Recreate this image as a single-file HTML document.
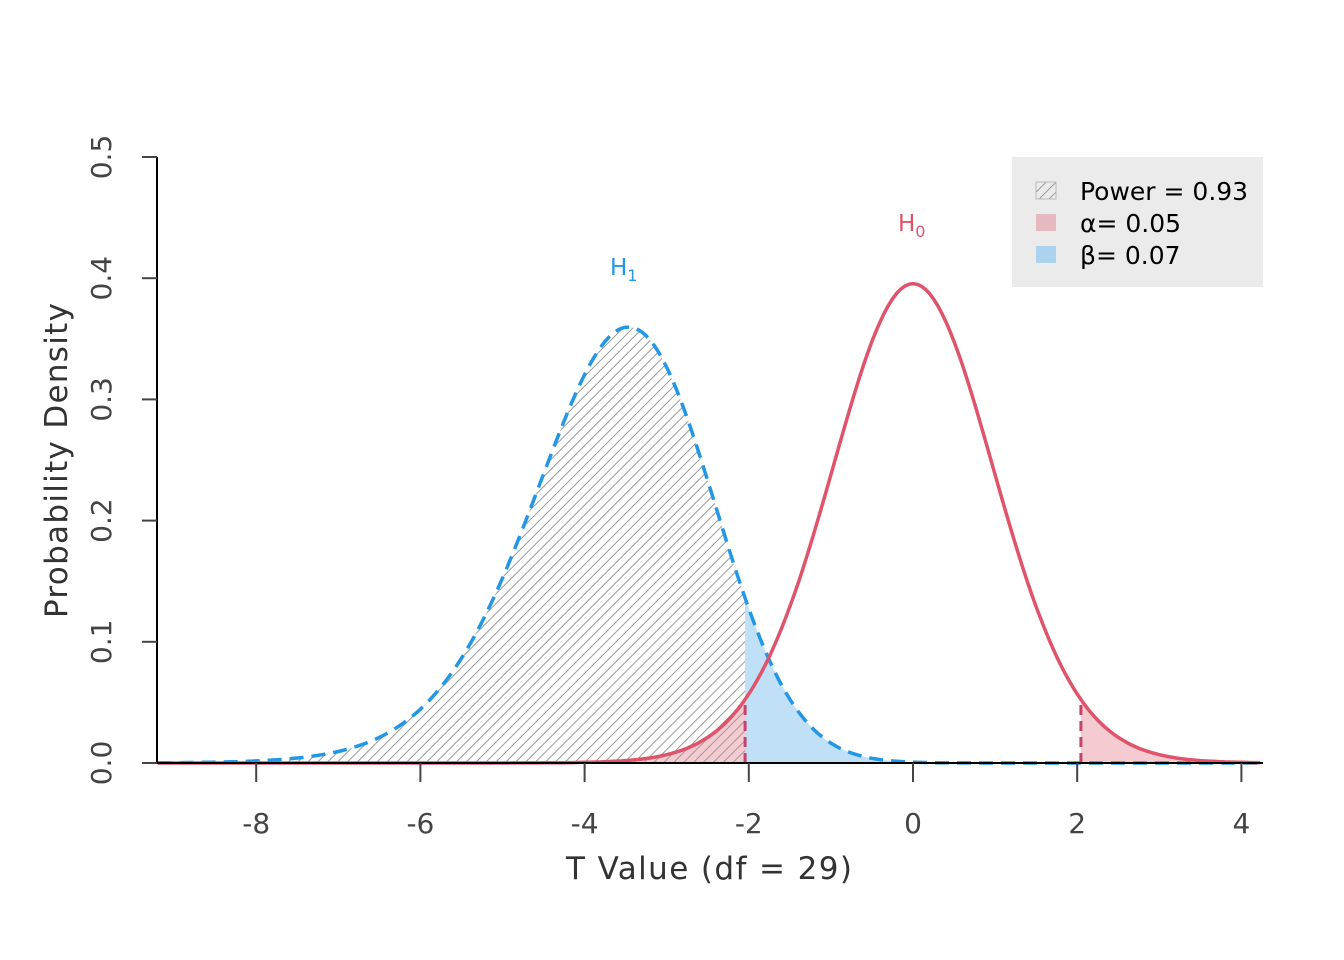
<!DOCTYPE html>
<html><head><meta charset="utf-8"><style>
body{margin:0;background:#fff}
svg{display:block;font-family:"DejaVu Sans","Liberation Sans",sans-serif}
</style></head><body>
<svg id="s" width="1344" height="960" xmlns="http://www.w3.org/2000/svg">
<defs>
<pattern id="hatch" patternUnits="userSpaceOnUse" width="7" height="7" patternTransform="rotate(45)">
<line x1="0" y1="0" x2="0" y2="7" stroke="#9a9a9a" stroke-width="2"/>
</pattern>
</defs>
<g id="fills"></g>
<g id="lines"></g>
<line x1="157" y1="763" x2="1263" y2="763" stroke="#000" stroke-width="2"/>
<line x1="157" y1="157" x2="157" y2="763" stroke="#000" stroke-width="2"/>
<g id="axes" fill="#444" font-size="28"></g>
<text x="566" y="879" textLength="286" lengthAdjust="spacing" font-size="31" fill="#333">T Value (df = 29)</text>
<text transform="translate(67,618) rotate(-90)" textLength="315" lengthAdjust="spacing" font-size="31" fill="#333">Probability Density</text>
<text x="610" y="275" font-size="23" fill="#2297E6">H<tspan font-size="16" dy="6">1</tspan></text>
<text x="898" y="231" font-size="23" fill="#DF536B">H<tspan font-size="16" dy="6">0</tspan></text>
<rect x="1012" y="157" width="251" height="130" fill="#ebebeb"/>
<rect x="1036" y="182" width="20" height="17" fill="url(#hatch)" stroke="#bbb"/>
<rect x="1036" y="214" width="20" height="17" fill="#e6b8c0"/>
<rect x="1036" y="246" width="20" height="17" fill="#acd3ee"/>
<g font-size="25" fill="#000">
<text x="1080" y="200">Power = 0.93</text>
<text x="1080" y="232">α= 0.05</text>
<text x="1080" y="264">β= 0.07</text>
</g>
</svg>
<script>
function lg(x){var g=[676.5203681218851,-1259.1392167224028,771.32342877765313,-176.61502916214059,12.507343278686905,-0.13857109526572012,9.9843695780195716e-6,1.5056327351493116e-7];x-=1;var a=0.99999999999980993,t=x+7.5;for(var i=0;i<8;i++)a+=g[i]/(x+i+1);return 0.5*Math.log(2*Math.PI)+(x+0.5)*Math.log(t)-t+Math.log(a);}
var nu=29,d=-3.55;
function dt(t){return Math.exp(lg((nu+1)/2)-lg(nu/2)-0.5*Math.log(nu*Math.PI)-(nu+1)/2*Math.log(1+t*t/nu));}
var gs=[],ds=0.004;
for(var s=0.004;s<3;s+=ds){var v=nu*s*s;var lp=(nu/2-1)*Math.log(v)-v/2-(nu/2)*Math.log(2)-lg(nu/2);gs.push([s,Math.exp(lp)*2*nu*s]);}
function dnt(t){var r=0;for(var i=0;i<gs.length;i++){var s=gs[i][0],z=t*s-d;r+=Math.exp(-z*z/2)/Math.sqrt(2*Math.PI)*s*gs[i][1]*ds;}return r;}
function X(x){return 913+x*82.1;}function Y(y){return 763-y*1212;}
var crit=2.045,x0=-9.2,x1=4.23;
function pts(f,a,b){var p=[];for(var x=a;x<=b+1e-9;x+=0.05)p.push([X(x),Y(f(x))]);p.push([X(b),Y(f(b))]);return p;}
function area(f,a,b){var p=pts(f,a,b);return "M"+X(a)+","+Y(0)+" L"+p.map(q=>q[0].toFixed(1)+","+q[1].toFixed(1)).join(" ")+" L"+X(b)+","+Y(0)+"Z";}
function line(f,a,b){var p=pts(f,a,b);return "M"+p.map(q=>q[0].toFixed(1)+","+q[1].toFixed(1)).join(" L");}
var F=document.getElementById("fills"),L=document.getElementById("lines"),A=document.getElementById("axes");
var ns="http://www.w3.org/2000/svg";
function el(p,tag,at){var e=document.createElementNS(ns,tag);for(var k in at)e.setAttribute(k,at[k]);p.appendChild(e);return e;}
el(F,"path",{d:area(dnt,-crit,x1),fill:"#bfe0f7"});
el(F,"path",{d:area(dt,crit,x1),fill:"rgba(223,83,107,0.3)"});
el(F,"path",{d:area(dt,x0,-crit),fill:"rgba(223,83,107,0.3)"});
el(F,"path",{d:area(dnt,x0,-crit),fill:"url(#hatch)"});
el(L,"path",{d:line(dnt,x0,x1),fill:"none",stroke:"#2297E6","stroke-width":3.5,"stroke-dasharray":"14,8"});
el(L,"path",{d:line(dt,x0,x1),fill:"none",stroke:"#DF536B","stroke-width":3.5});
[-crit,crit].forEach(function(c){el(L,"line",{x1:X(c),x2:X(c),y1:Y(0),y2:Y(dt(c)),stroke:"#C7436B","stroke-width":3,"stroke-dasharray":"10,6"});});
[-8,-6,-4,-2,0,2,4].forEach(function(v){el(A,"line",{x1:X(v),x2:X(v),y1:763,y2:782,stroke:"#444","stroke-width":2});var t=el(A,"text",{x:X(v),y:833,"text-anchor":"middle"});t.textContent=v;});
[0,0.1,0.2,0.3,0.4,0.5].forEach(function(v){el(A,"line",{x1:157,x2:142,y1:Y(v),y2:Y(v),stroke:"#444","stroke-width":2});var t=el(A,"text",{transform:"translate(111,"+Y(v)+") rotate(-90)","text-anchor":"middle"});t.textContent=v.toFixed(1);});
</script>
</body></html>
